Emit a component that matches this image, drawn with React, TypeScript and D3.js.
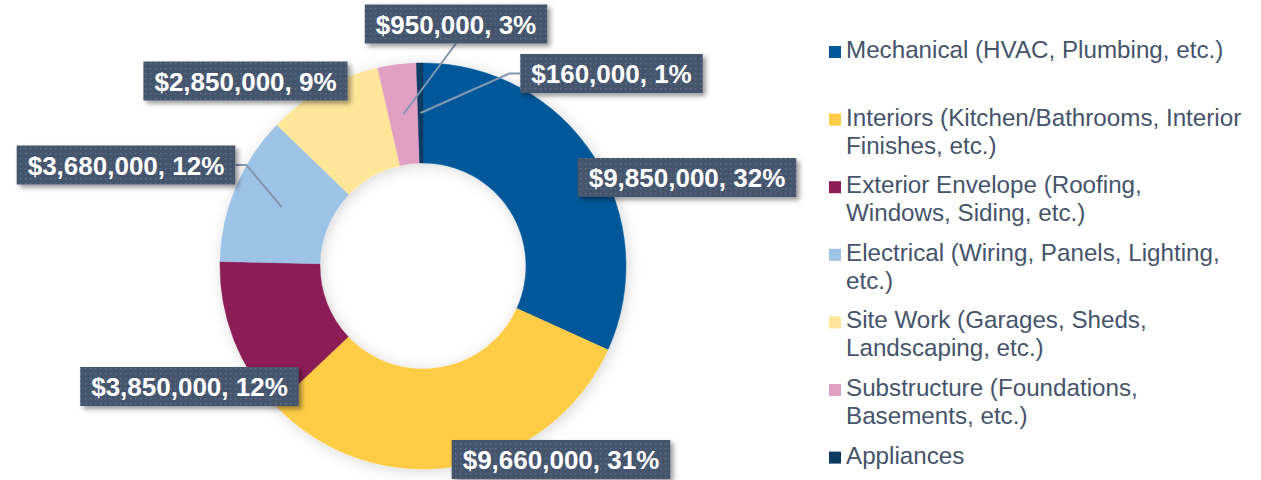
import React, { useEffect, useRef } from "react";
import * as d3 from "d3";

// Renovation cost breakdown donut
const categories = [
  "Mechanical (HVAC, Plumbing, etc.)",
  "Interiors (Kitchen/Bathrooms, Interior Finishes, etc.)",
  "Exterior Envelope (Roofing, Windows, Siding, etc.)",
  "Electrical (Wiring, Panels, Lighting, etc.)",
  "Site Work (Garages, Sheds, Landscaping, etc.)",
  "Substructure (Foundations, Basements, etc.)",
  "Appliances",
];
const values = [9850000, 9660000, 3850000, 3680000, 2850000, 950000, 160000];
const colors = ["#00589b", "#fecd45", "#8c1c55", "#9dc3e6", "#ffe699", "#e29fc4", "#0b3a62"];

// legend text, wrapped as in the original
const legendLines = [
  ["Mechanical (HVAC, Plumbing, etc.)"],
  ["Interiors (Kitchen/Bathrooms, Interior", "Finishes, etc.)"],
  ["Exterior Envelope (Roofing,", "Windows, Siding, etc.)"],
  ["Electrical (Wiring, Panels, Lighting,", "etc.)"],
  ["Site Work (Garages, Sheds,", "Landscaping, etc.)"],
  ["Substructure (Foundations,", "Basements, etc.)"],
  ["Appliances"],
];

// label box centres relative to the donut centre (manual placement)
const labelOffsets = [
  [264, -88.5],
  [138, 193.5],
  [-233.5, 120.5],
  [-297, -101],
  [-177.5, -185],
  [33, -242],
  [188.5, -192.5],
];
const showLeader = [false, false, false, true, false, true, true];

const W = 1261;
const H = 480;
const FONT = "'Liberation Sans', Arial, sans-serif";

export default function App() {
  const ref = useRef<SVGSVGElement>(null);

  useEffect(() => {
    if (!ref.current) return;
    const svg = d3.select(ref.current);
    svg.selectAll("*").remove();

    const cx = 423;
    const cy = 266;
    const outerR = 203;
    const innerR = 103;

    const defs = svg.append("defs");
    const pat = defs.append("pattern")
      .attr("id", "dots")
      .attr("width", 5).attr("height", 5)
      .attr("patternUnits", "userSpaceOnUse");
    pat.append("rect").attr("width", 5).attr("height", 5).attr("fill", "#45556c");
    pat.append("rect").attr("x", 2).attr("y", 2).attr("width", 1.4).attr("height", 1.4).attr("fill", "#5f7090");

    defs.append("filter").attr("id", "boxShadow")
      .attr("x", "-20%").attr("y", "-40%").attr("width", "140%").attr("height", "180%")
      .append("feDropShadow")
      .attr("dx", 3).attr("dy", 3).attr("stdDeviation", 2.5)
      .attr("flood-color", "#000").attr("flood-opacity", 0.4);

    defs.append("filter").attr("id", "donutShadow")
      .attr("x", "-20%").attr("y", "-20%").attr("width", "140%").attr("height", "140%")
      .append("feDropShadow")
      .attr("dx", 2).attr("dy", 2).attr("stdDeviation", 7)
      .attr("flood-color", "#000").attr("flood-opacity", 0.16);

    const total = d3.sum(values);
    const pie = d3.pie<number>().sort(null).value(d => d);
    const arcs = pie(values);
    const arc = d3.arc<d3.PieArcDatum<number>>().innerRadius(innerR).outerRadius(outerR);

    const g = svg.append("g").attr("transform", `translate(${cx},${cy})`);

    // Slices
    g.append("g")
      .attr("filter", "url(#donutShadow)")
      .selectAll("path")
      .data(arcs)
      .enter()
      .append("path")
      .attr("d", arc)
      .attr("fill", (d, i) => colors[i])
      .attr("stroke", (d, i) => colors[i])
      .attr("stroke-width", 0.5);

    const fmt = d3.format("$,");
    const leaderLayer = g.append("g");
    const labelLayer = g.append("g");

    arcs.forEach((a, i) => {
      const [ox, oy] = labelOffsets[i];
      const pct = Math.round((values[i] / total) * 100);
      const lg = labelLayer.append("g");
      const text = lg.append("text")
        .attr("x", ox)
        .attr("y", oy + 9.5)
        .attr("text-anchor", "middle")
        .attr("font-family", FONT)
        .attr("font-weight", "bold")
        .attr("font-size", "26px")
        .attr("fill", "#fff")
        .text(`${fmt(values[i])}, ${pct}%`);
      const tw = (text.node() as SVGTextElement).getComputedTextLength();
      const bw = tw + 22;
      const bh = 39;
      const x0 = ox - bw / 2;
      const x1 = ox + bw / 2;
      const y0 = oy - bh / 2;
      const y1 = oy + bh / 2;
      lg.insert("rect", "text")
        .attr("x", x0).attr("y", y0)
        .attr("width", bw).attr("height", bh)
        .attr("fill", "url(#dots)")
        .attr("filter", "url(#boxShadow)");

      if (showLeader[i]) {
        const [px, py] = arc.centroid(a);
        let pts: [number, number][];
        if (px >= x0 && px <= x1) {
          pts = [[ox, py > y1 ? y1 : y0], [px, py]];
        } else if (px < x0) {
          pts = [[x0, oy], [x0 - 11, oy], [px, py]];
        } else {
          pts = [[x1, oy], [x1 + 11, oy], [px, py]];
        }
        leaderLayer.append("path")
          .attr("d", d3.line()(pts))
          .attr("fill", "none")
          .attr("stroke", "#8497b0")
          .attr("stroke-width", 2);
      }
    });

    // Legend
    const legend = svg.append("g");
    const step = 67.6;
    legendLines.forEach((lines, i) => {
      const by = 58 + i * step;
      legend.append("rect")
        .attr("x", 829).attr("y", by - 12)
        .attr("width", 12).attr("height", 12)
        .attr("fill", colors[i]);
      const t = legend.append("text")
        .attr("font-family", FONT)
        .attr("font-size", "24.2px")
        .attr("fill", "#44546a")
        .attr("aria-label", categories[i]);
      lines.forEach((ln, j) => {
        t.append("tspan").attr("x", 846).attr("y", by + j * 28).text(ln);
      });
    });
  }, []);

  return (
    <svg
      ref={ref}
      width={W}
      height={H}
      style={{ position: "absolute", left: 0, top: 0, background: "#fff" }}
    />
  );
}
